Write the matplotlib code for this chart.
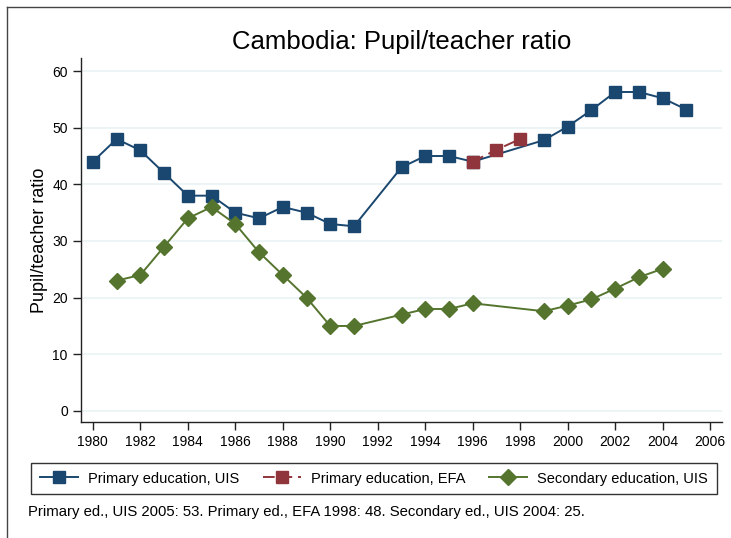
#!/usr/bin/env python3
"""
Cambodia pupil/teacher ratio chart, Stata-like styling.
"""

import matplotlib
matplotlib.use("Agg")
import matplotlib.pyplot as plt
from matplotlib import lines

plt.rcParams['font.family'] = ['Liberation Sans', 'DejaVu Sans']

# data
primary_uis_years = [1980, 1981, 1982, 1983, 1984, 1985, 1986, 1987, 1988,
                     1989, 1990, 1991, 1993, 1994, 1995, 1996, 1999, 2000,
                     2001, 2002, 2003, 2004, 2005]
primary_uis_vals = [44, 48, 46, 42, 38, 38, 35, 34, 36, 35, 33, 32.6, 43, 45,
                    45, 44, 47.8, 50.2, 53.1, 56.3, 56.3, 55.2, 53.2]

primary_efa_years = [1996, 1997, 1998]
primary_efa_vals = [44, 46.1, 48]

secondary_uis_years = [1981, 1982, 1983, 1984, 1985, 1986, 1987, 1988, 1989,
                       1990, 1991, 1993, 1994, 1995, 1996, 1999, 2000, 2001,
                       2002, 2003, 2004]
secondary_uis_vals = [23, 24, 29, 34, 36, 33, 28, 24, 20, 15, 15, 17, 18, 18,
                      19, 17.6, 18.6, 19.7, 21.6, 23.6, 25.1]

x_ticks = list(range(1980, 2007, 2))
y_ticks = [0, 10, 20, 30, 40, 50, 60]

BLUE = "#1a476f"
RED = "#90353b"
GREEN = "#55752f"
GRID = "#eaf2f3"

W, H = 731, 538
fig = plt.figure(figsize=(W / 100, H / 100), dpi=100)
fig.patch.set_facecolor("white")

# outer frame (only left and top edges visible in the crop)
fig.add_artist(lines.Line2D([6.5 / W, 6.5 / W], [0, 1 - 7 / H],
                            color="#444444", lw=1.0))
fig.add_artist(lines.Line2D([6.5 / W, 1], [1 - 7 / H, 1 - 7 / H],
                            color="#444444", lw=1.0))

ax = fig.add_axes([81 / W, 1 - 422 / H, (722 - 81) / W, (422 - 58) / H])
ax.set_xlim(1979.5, 2006.5)
ax.set_ylim(-1.95, 62.3)

for yv in y_ticks:
    ax.axhline(yv, color=GRID, lw=1.2, zorder=0)

ax.plot(primary_uis_years, primary_uis_vals, color=BLUE, lw=1.4,
        marker="s", markersize=8, markeredgecolor=BLUE,
        label="Primary education, UIS", zorder=3)
ax.plot(primary_efa_years, primary_efa_vals, color=RED, lw=1.4,
        linestyle=(0, (6, 3)), marker="s", markersize=8,
        markeredgecolor=RED, label="Primary education, EFA", zorder=4)
ax.plot(secondary_uis_years, secondary_uis_vals, color=GREEN, lw=1.4,
        marker="D", markersize=8, markeredgecolor=GREEN,
        label="Secondary education, UIS", zorder=3)

ax.set_xticks(x_ticks)
ax.set_yticks(y_ticks)
ax.tick_params(axis="both", labelsize=10, length=6, width=1,
               color="#222222")
for side in ("top", "right"):
    ax.spines[side].set_visible(False)
for side in ("left", "bottom"):
    ax.spines[side].set_color("#222222")
    ax.spines[side].set_linewidth(1)

ax.set_ylabel("Pupil/teacher ratio", fontsize=13, labelpad=3)
fig.text((81 + 722) / 2 / W, 1 - 42 / H, "Cambodia: Pupil/teacher ratio",
         ha="center", va="center", fontsize=18.5)

leg = fig.legend(loc="center", bbox_to_anchor=(374 / W, 1 - 478.5 / H),
                 ncol=3, fontsize=10.5, frameon=True, fancybox=False,
                 handlelength=2.6, columnspacing=1.6, borderpad=0.6,
                 handletextpad=0.7)
leg.get_frame().set_edgecolor("black")
leg.get_frame().set_linewidth(1)

fig.text(28 / W, 1 - 512 / H,
         "Primary ed., UIS 2005: 53. Primary ed., EFA 1998: 48. "
         "Secondary ed., UIS 2004: 25.",
         ha="left", va="center", fontsize=10.7)

fig.savefig("out.png", dpi=100)
